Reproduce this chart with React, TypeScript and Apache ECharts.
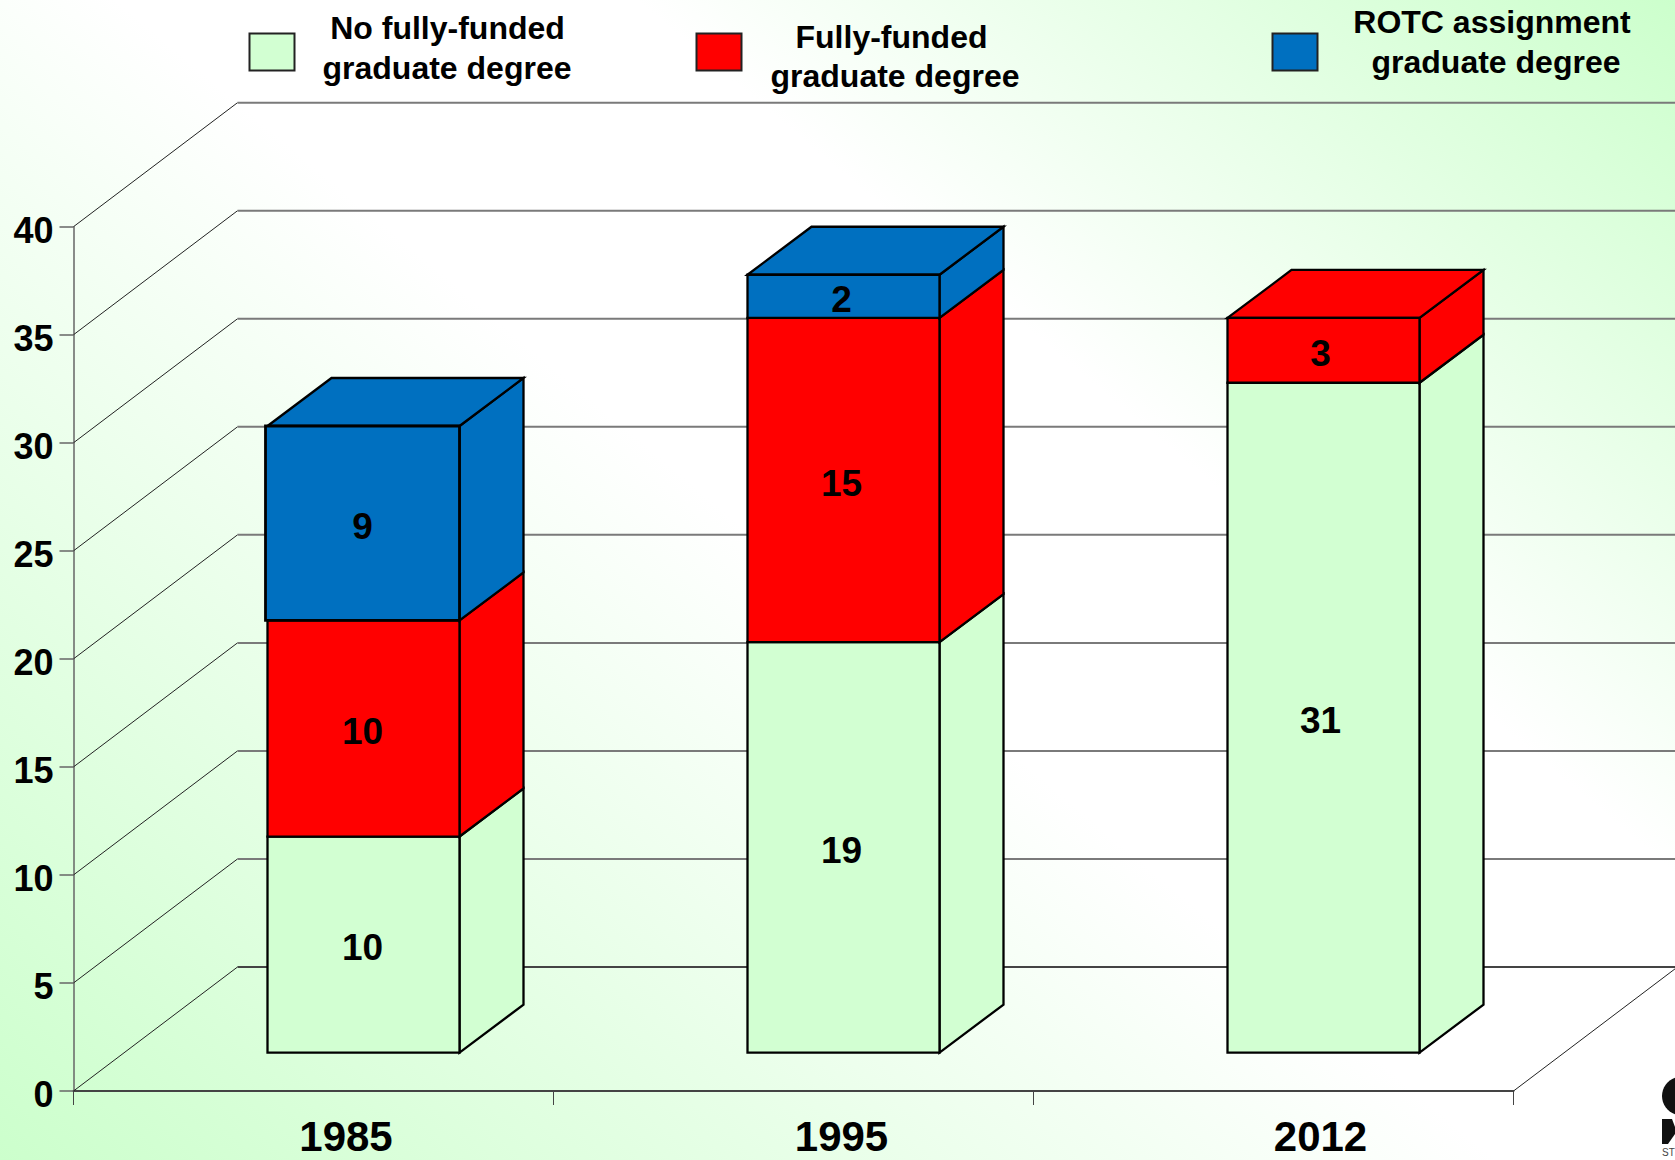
import React, { useEffect, useRef } from "react";
import * as echarts from "echarts";

const years = ["1985", "1995", "2012"];
const yearLabelShift = [65, 96, 94];
const valueLabelNudge = [-1, -2, -3];
const noFunded = [10, 19, 31];
const funded = [10, 15, 3];
const rotc = [9, 2, 0];
const yTicks = [0, 5, 10, 15, 20, 25, 30, 35, 40];
const legendNames = [
  ["No fully-funded", "graduate degree"],
  ["Fully-funded", "graduate degree"],
  ["ROTC assignment", "graduate degree"],
];

const GREEN = "#D2FFD2";
const RED = "#FF0000";
const BLUE = "#0070C0";
const FONT = "'Liberation Sans', Arial, sans-serif";

const WALL_DX = 164;
const WALL_DY = 124;
const FRONT_DX = 50;
const FRONT_DY = 38.4;
const BAR_DX = 64;
const BAR_DY = 48;
const BAR_W = 192;

const stacks = [noFunded, funded, rotc];

function rowsFor(k: number) {
  return stacks[k].map((v, i) => {
    let base = 0;
    for (let j = 0; j < k; j++) base += stacks[j][i];
    let total = 0;
    for (let j = 0; j < stacks.length; j++) total += stacks[j][i];
    return [i, base, v, base + v === total ? 1 : 0];
  });
}

function barRender(color: string, k: number) {
  return (params: any, api: any) => {
    const i = api.value(0);
    const base = api.value(1);
    const v = api.value(2);
    const top = api.value(3);
    if (!v) return null;
    const p0 = api.coord([i, base]);
    const p1 = api.coord([i, base + v]);
    const xl = p0[0] - BAR_W / 2 + FRONT_DX;
    const xr = xl + BAR_W;
    const yb = p0[1] - FRONT_DY;
    const yt = p1[1] - FRONT_DY;
    const st = { fill: color, stroke: "#000", lineWidth: 2.3, lineJoin: "miter" };
    // The large blue block of the first column sits slightly proud of its neighbours.
    const proud = k === 2 && i === 0;
    const children: any[] = [
      {
        type: "polygon",
        shape: { points: [[xr, yb], [xr + BAR_DX, yb - BAR_DY], [xr + BAR_DX, yt - BAR_DY], [xr, yt]] },
        style: st,
      },
    ];
    if (top) {
      children.push({
        type: "polygon",
        shape: { points: [[xl, yt], [xl + BAR_DX, yt - BAR_DY], [xr + BAR_DX, yt - BAR_DY], [xr, yt]] },
        style: st,
      });
    }
    children.push({
      type: "polygon",
      shape: { points: [[proud ? xl - 2 : xl, yb], [xr, yb], [xr, yt], [proud ? xl - 2 : xl, yt]] },
      style: { ...st, lineWidth: proud ? 2.8 : 2.3 },
    });
    children.push({
      type: "text",
      x: (xl + xr) / 2 + valueLabelNudge[i],
      y: (yb + yt) / 2 + 3,
      style: {
        text: String(v),
        fontFamily: FONT,
        fontWeight: "bold",
        fontSize: 37,
        fill: "#000",
        align: "center",
        verticalAlign: "middle",
      },
    });
    return { type: "group", children };
  };
}

function wallRender(params: any, api: any) {
  const v = api.value(0);
  const p = api.coord([0, v]);
  const left = params.coordSys.x;
  const right = left + params.coordSys.width;
  const y = p[1];
  const slant = { stroke: "#222", lineWidth: 1, fill: "none" };
  const children: any[] = [
    { type: "line", shape: { x1: left, y1: y, x2: left + WALL_DX, y2: y - WALL_DY }, style: slant },
    {
      type: "line",
      shape: { x1: left + WALL_DX, y1: y - WALL_DY, x2: right + WALL_DX, y2: y - WALL_DY },
      style: { stroke: v === 0 ? "#444" : "#7A7A7A", lineWidth: 2 },
    },
  ];
  if (v === 0) {
    children.push({ type: "line", shape: { x1: right, y1: y, x2: right + WALL_DX, y2: y - WALL_DY }, style: slant });
  }
  return { type: "group", children };
}

function legendItem(idx: number, sx: number, color: string, cx1: number, cx2: number, y1: number, y2: number) {
  const text = (t: string, cx: number, y: number) => ({
    type: "text",
    x: cx,
    y,
    style: { text: t, fontFamily: FONT, fontWeight: "bold", fontSize: 32, fill: "#000", align: "center", verticalAlign: "middle" },
  });
  return [
    { type: "rect", shape: { x: sx, y: 33.5, width: 45, height: 37 }, style: { fill: color, stroke: "#222", lineWidth: 2 } },
    text(legendNames[idx][0], cx1, y1),
    text(legendNames[idx][1], cx2, y2),
  ];
}

export default function App() {
  const ref = useRef<HTMLDivElement>(null);
  useEffect(() => {
    document.body.style.margin = "0";
    const chart = echarts.init(ref.current!, undefined, { renderer: "svg" });
    const colors = [GREEN, RED, BLUE];
    chart.setOption({
      animation: false,
      backgroundColor: {
        type: "linear",
        global: true,
        x: 0,
        y: 1160,
        x2: 1264.5,
        y2: -344.8,
        colorStops: [
          { offset: 0, color: "#CCFFCC" },
          { offset: 0.49, color: "#FFFFFF" },
          { offset: 0.66, color: "#FFFFFF" },
          { offset: 1, color: "#CCFFCC" },
        ],
      },
      grid: { left: 73.5, top: 226.7, width: 1440, height: 864.3, containLabel: false, outerBoundsMode: "none" },
      xAxis: {
        type: "category",
        data: years.map((y, i) => ({ value: y, textStyle: { padding: [0, 0, 0, yearLabelShift[i]] } })),
        axisLine: { onZero: true, lineStyle: { color: "#444", width: 2 } },
        axisTick: { show: true, length: 14, lineStyle: { color: "#444", width: 1 } },
        axisLabel: { fontFamily: FONT, fontWeight: "bold", fontSize: 42, lineHeight: 36, color: "#000", margin: 27, interval: 0 },
        splitLine: { show: false },
      },
      yAxis: {
        type: "value",
        min: 0,
        max: 40,
        interval: 5,
        axisLine: { show: true, lineStyle: { color: "#666", width: 1.5 } },
        axisTick: { show: true, length: 14, lineStyle: { color: "#666", width: 1.5 } },
        axisLabel: { fontFamily: FONT, fontWeight: "bold", fontSize: 36, color: "#000", margin: 20, verticalAlign: "top", lineHeight: 7 },
        splitLine: { show: false },
      },
      series: [
        {
          type: "custom",
          name: "wall",
          silent: true,
          z: 1,
          data: yTicks.map((v) => [v]),
          encode: { y: 0 },
          renderItem: wallRender,
        },
        ...stacks.map((_, k) => ({
          type: "custom",
          name: legendNames[k].join(" "),
          z: 3 + k,
          data: rowsFor(k),
          encode: { x: 0, y: 2 },
          renderItem: barRender(colors[k], k),
        })),
      ],
      graphic: [
        ...legendItem(0, 249.5, GREEN, 447.5, 447, 28, 68),
        ...legendItem(1, 696.5, RED, 891.5, 895, 37, 76),
        ...legendItem(2, 1272.5, BLUE, 1492, 1496, 22, 62),
        { type: "ellipse", shape: { cx: 1682, cy: 1096, rx: 20, ry: 19.5 }, style: { fill: "#111" } },
        { type: "polygon", shape: { points: [[1662, 1119], [1672, 1119], [1675, 1127], [1675, 1134], [1668, 1144], [1662, 1144]] }, style: { fill: "#111" } },
        { type: "text", x: 1662, y: 1147, style: { text: "ST", fontFamily: FONT, fontSize: 10, fill: "#444" } },
      ],
    });
    return () => chart.dispose();
  }, []);
  return <div ref={ref} style={{ position: "absolute", left: 0, top: 0, width: 1675, height: 1160 }} />;
}
